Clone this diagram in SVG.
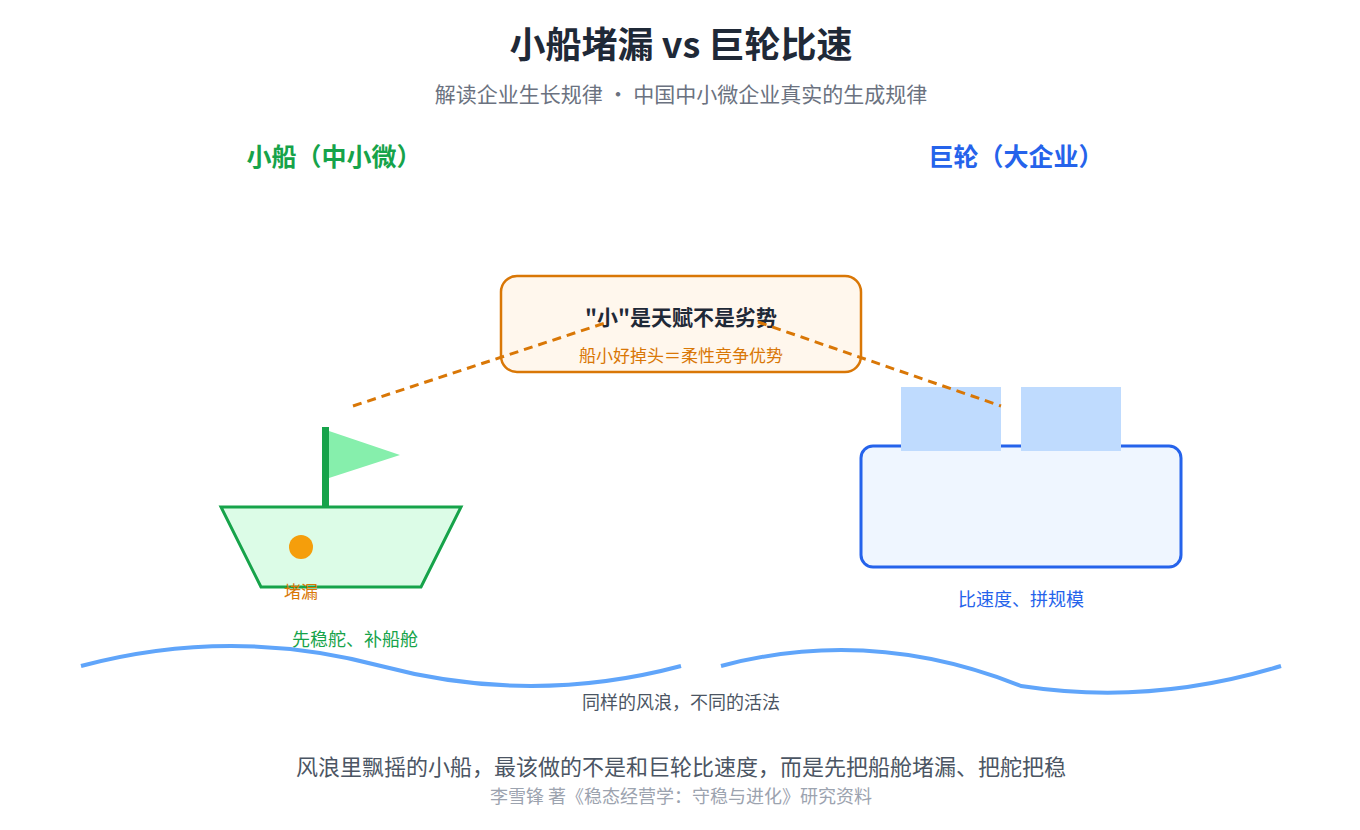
<svg xmlns="http://www.w3.org/2000/svg" width="1360" height="830" viewBox="0 0 1360 830">
<style>
text{font-family:"Noto Sans CJK SC","Noto Sans",sans-serif;text-anchor:middle}
.dash{stroke:#d97706;stroke-width:3;stroke-dasharray:9 6;fill:none}
.wave{stroke:#60a5fa;stroke-width:4;fill:none}
</style>
<rect width="1360" height="830" fill="#fff"/>
<text x="681" y="58" font-size="36" font-weight="bold" fill="#1f2937">小船堵漏 vs 巨轮比速</text>
<text x="681" y="102" font-size="21" fill="#6b7280">解读企业生长规律 · 中国中小微企业真实的生成规律</text>
<text x="334" y="166" font-size="25" font-weight="bold" fill="#16a34a">小船（中小微）</text>
<text x="1016" y="166" font-size="25" font-weight="bold" fill="#2563eb">巨轮（大企业）</text>
<g id="callout">
<rect x="501" y="276" width="360" height="96" rx="16" fill="#fff7ed" stroke="#d97706" stroke-width="2.5"/>
<text x="681" y="325" font-size="21" font-weight="bold" fill="#1f2937">"小"是天赋不是劣势</text>
<text x="681" y="362" font-size="17" fill="#d97706">船小好掉头＝柔性竞争优势</text>
</g>
<g id="smallboat">
<polygon points="221,507 461,507 421,587 261,587" fill="#dcfce7" stroke="#16a34a" stroke-width="3"/>
<rect x="322" y="427" width="7" height="80" fill="#16a34a"/>
<polygon points="329,431 400,455 329,478" fill="#86efac"/>
<circle cx="301" cy="547" r="12" fill="#f59e0b"/>
<text x="301" y="598" font-size="17" fill="#d97706">堵漏</text>
<text x="355" y="646" font-size="18" fill="#16a34a">先稳舵、补船舱</text>
</g>
<g id="bigship">
<rect x="861" y="446" width="320" height="121" rx="12" fill="#eff6ff" stroke="#2563eb" stroke-width="3"/>
<rect x="901" y="387" width="100" height="64" fill="#bfdbfe"/>
<rect x="1021" y="387" width="100" height="64" fill="#bfdbfe"/>
<text x="1021" y="606" font-size="18" fill="#2563eb">比速度、拼规模</text>
</g>
<g id="connectors">
<line class="dash" x1="353" y1="406" x2="605" y2="323"/>
<line class="dash" x1="758" y1="322" x2="1001" y2="406"/>
</g>
<g id="waves">
<path class="wave" d="M81 666 Q231 626 381 666 T681 666"/>
<path class="wave" d="M721 666 Q871 626 1021 686 Q1151 706 1281 666"/>
<text x="681" y="709" font-size="18" fill="#4b5563">同样的风浪，不同的活法</text>
</g>
<text x="681" y="775" font-size="22" fill="#4b5563">风浪里飘摇的小船，最该做的不是和巨轮比速度，而是先把船舱堵漏、把舵把稳</text>
<text x="681" y="803" font-size="18" fill="#9ca3af">李雪锋 著《稳态经营学：守稳与进化》研究资料</text>
</svg>
